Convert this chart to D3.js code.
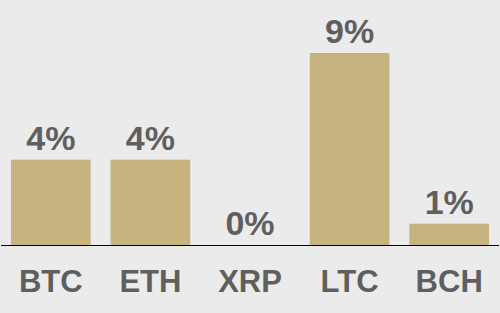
<!DOCTYPE html>
<html><head><meta charset="utf-8">
<script src="https://cdn.jsdelivr.net/npm/d3@7"></script>
<style>html,body{margin:0;padding:0;background:#ebebeb;}svg{display:block;}</style>
</head><body>
<script>
const categories = ["BTC","ETH","XRP","LTC","BCH"];
const values = [4,4,0,9,1];
const valueLabels = ["4%","4%","0%","9%","1%"];

const W=500,H=313, baseY=245, topY=53;
const svg=d3.select("body").append("svg").attr("width",W).attr("height",H);
svg.append("rect").attr("width",W).attr("height",H).attr("fill","#ebebeb");
const x=d3.scaleBand().domain(categories).range([1,499]).paddingInner(0.2).paddingOuter(0.1);
const y=d3.scaleLinear().domain([0,9]).range([baseY,topY]);
const font="'Liberation Sans', Arial, sans-serif";
svg.selectAll("rect.bar").data(categories).join("rect").attr("class","bar")
  .attr("x",d=>x(d)).attr("width",x.bandwidth())
  .attr("y",(d,i)=>y(values[i])).attr("height",(d,i)=>baseY-y(values[i]))
  .attr("fill","#c6b37e");
svg.append("line").attr("x1",1).attr("x2",499).attr("y1",baseY+0.5).attr("y2",baseY+0.5)
  .attr("stroke","#000").attr("stroke-width",1);
svg.selectAll("text.val").data(categories).join("text").attr("class","val")
  .attr("x",d=>x(d)+x.bandwidth()/2).attr("y",(d,i)=>y(values[i])-10)
  .attr("text-anchor","middle").attr("font-family",font).attr("font-weight","bold")
  .attr("font-size",34).attr("fill","#5f5f5f").text((d,i)=>valueLabels[i]);
const ax=svg.append("g").attr("transform",`translate(0,${baseY})`)
  .call(d3.axisBottom(x).tickSize(0).tickPadding(0));
ax.select(".domain").remove();
ax.selectAll("text").attr("y",47).attr("dy",0).attr("font-family",font).attr("font-weight","bold")
  .attr("font-size",31).attr("fill","#5f5f5f");
</script>
</body></html>
